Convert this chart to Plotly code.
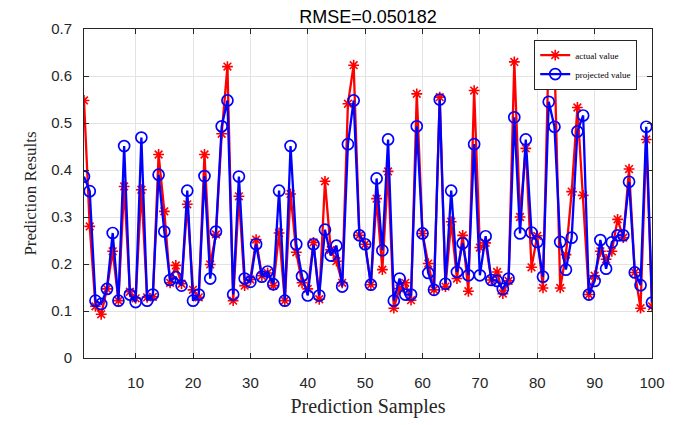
import plotly.graph_objects as go

samples = list(range(1, 101))

actual_value = [
    0.548, 0.280, 0.110, 0.093, 0.147, 0.227, 0.122, 0.365, 0.141, 0.127,
    0.358, 0.129, 0.130, 0.433, 0.312, 0.160, 0.197, 0.158, 0.327, 0.145,
    0.129, 0.433, 0.199, 0.263, 0.477, 0.620, 0.122, 0.344, 0.154, 0.167,
    0.252, 0.175, 0.181, 0.154, 0.266, 0.122, 0.349, 0.225, 0.160, 0.147,
    0.246, 0.125, 0.376, 0.230, 0.206, 0.160, 0.541, 0.623, 0.261, 0.242,
    0.156, 0.339, 0.188, 0.397, 0.106, 0.148, 0.160, 0.123, 0.562, 0.265,
    0.201, 0.145, 0.555, 0.152, 0.290, 0.169, 0.261, 0.142, 0.569, 0.235,
    0.245, 0.166, 0.183, 0.137, 0.164, 0.630, 0.300, 0.446, 0.193, 0.260,
    0.149, 0.660, 0.640, 0.149, 0.220, 0.354, 0.533, 0.346, 0.135, 0.175,
    0.227, 0.210, 0.227, 0.295, 0.256, 0.402, 0.182, 0.106, 0.465, 0.110,
]

projected_value = [
    0.386, 0.355, 0.122, 0.115, 0.147, 0.266, 0.122, 0.451, 0.135, 0.119,
    0.469, 0.122, 0.135, 0.390, 0.269, 0.166, 0.172, 0.154, 0.356, 0.122,
    0.135, 0.387, 0.169, 0.269, 0.493, 0.548, 0.135, 0.386, 0.169, 0.162,
    0.242, 0.173, 0.184, 0.157, 0.356, 0.122, 0.451, 0.242, 0.174, 0.133,
    0.242, 0.133, 0.273, 0.218, 0.239, 0.152, 0.455, 0.548, 0.261, 0.242,
    0.156, 0.382, 0.229, 0.465, 0.122, 0.169, 0.135, 0.135, 0.493, 0.265,
    0.181, 0.145, 0.550, 0.158, 0.356, 0.183, 0.244, 0.176, 0.455, 0.176,
    0.259, 0.166, 0.164, 0.147, 0.169, 0.512, 0.265, 0.465, 0.267, 0.247,
    0.173, 0.545, 0.492, 0.247, 0.188, 0.256, 0.482, 0.516, 0.135, 0.164,
    0.251, 0.190, 0.246, 0.261, 0.261, 0.375, 0.182, 0.155, 0.492, 0.118,
]

x_ticks = [10, 20, 30, 40, 50, 60, 70, 80, 90, 100]
y_ticks = [0, 0.1, 0.2, 0.3, 0.4, 0.5, 0.6, 0.7]
y_tick_labels = ["0", "0.1", "0.2", "0.3", "0.4", "0.5", "0.6", "0.7"]

fig = go.Figure()
fig.add_trace(go.Scatter(
    x=samples, y=actual_value, mode="lines+markers", name="actual value",
    line=dict(color="#FF0000", width=2.3),
    marker=dict(symbol="asterisk-open", size=9, color="#FF0000",
                line=dict(color="#FF0000", width=1.6)),
))
fig.add_trace(go.Scatter(
    x=samples, y=projected_value, mode="lines+markers", name="projected value",
    line=dict(color="#0000FF", width=2.3),
    marker=dict(symbol="circle-open", size=11, color="#0000FF",
                line=dict(color="#0000FF", width=1.7)),
))

axis_common = dict(
    showline=True, linecolor="#262626", linewidth=1, mirror="ticks",
    ticks="inside", ticklen=5, tickcolor="#262626",
    showgrid=True, gridcolor="#E3E3E3", gridwidth=1, zeroline=False,
    tickfont=dict(family="Liberation Sans, Arial, sans-serif", size=15, color="#262626"),
)

fig.update_xaxes(
    range=[1, 100], tickvals=x_ticks, ticklabelstandoff=11,
    title=dict(text="Prediction Samples", standoff=8,
               font=dict(family="Liberation Serif, Times New Roman, serif", size=20, color="#262626")),
    **axis_common,
)
fig.update_yaxes(
    range=[0, 0.7], tickvals=y_ticks, ticktext=y_tick_labels, ticklabelstandoff=8,
    title=dict(text="Prediction Results", standoff=10,
               font=dict(family="Liberation Serif, Times New Roman, serif", size=17, color="#262626")),
    **axis_common,
)

fig.update_layout(
    width=677, height=425,
    margin=dict(l=84, r=14, t=29, b=53),
    paper_bgcolor="white", plot_bgcolor="white",
    title=dict(text="RMSE=0.050182", x=0.5, xanchor="center", xref="paper",
               y=1, yref="paper", yanchor="bottom", pad=dict(b=6),
               font=dict(family="Liberation Sans, Arial, sans-serif", size=18, color="#000000")),
    showlegend=True,
    legend=dict(x=0.974, y=0.968, xanchor="right", yanchor="top",
                bgcolor="white", bordercolor="#262626", borderwidth=1,
                font=dict(family="Liberation Serif, Times New Roman, serif", size=9, color="#000000"),
                tracegroupgap=0, itemwidth=30),
)

fig.write_html("out.html")
